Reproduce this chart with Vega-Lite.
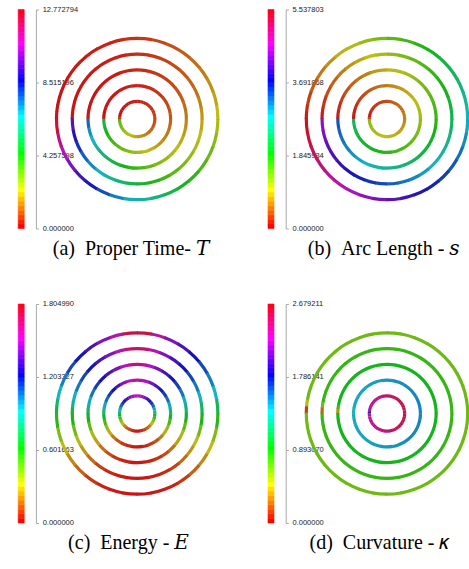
{
"$schema":"https://vega.github.io/schema/vega-lite/v6.json",
"background":"white",
"padding":{"left":17.2,"top":5.5,"right":1,"bottom":5},
"config":{"view":{"stroke":null},
"axis":{"labelFont":"Liberation Sans","labelFontSize":7.5,"labelColor":"#1a1a1a","tickColor":"#a8a8a8","domainColor":"#a8a8a8","tickWidth":1,"domainWidth":1,"grid":false,"title":null,"labelFlush":false,"labelOverlap":false},
"title":{"orient":"bottom","frame":"group","anchor":"middle","font":"Liberation Serif, DejaVu Serif","fontSize":20,"fontWeight":"normal","color":"#000","offset":10.5}},
"datasets":{
"bars":[
{"t0":0,"t1":0.2661,"s0":0,"s1":0.11537,"e0":0,"e1":0.0376,"k0":0,"k1":0.05582},
{"t0":0.2661,"t1":0.5322,"s0":0.11537,"s1":0.23074,"e0":0.0376,"e1":0.07521,"k0":0.05582,"k1":0.11163},
{"t0":0.5322,"t1":0.7983,"s0":0.23074,"s1":0.34611,"e0":0.07521,"e1":0.11281,"k0":0.11163,"k1":0.16745},
{"t0":0.7983,"t1":1.0644,"s0":0.34611,"s1":0.46148,"e0":0.11281,"e1":0.15042,"k0":0.16745,"k1":0.22327},
{"t0":1.0644,"t1":1.3305,"s0":0.46148,"s1":0.57685,"e0":0.15042,"e1":0.18802,"k0":0.22327,"k1":0.27908},
{"t0":1.3305,"t1":1.5966,"s0":0.57685,"s1":0.69223,"e0":0.18802,"e1":0.22562,"k0":0.27908,"k1":0.3349},
{"t0":1.5966,"t1":1.8627,"s0":0.69223,"s1":0.8076,"e0":0.22562,"e1":0.26323,"k0":0.3349,"k1":0.39072},
{"t0":1.8627,"t1":2.1288,"s0":0.8076,"s1":0.92297,"e0":0.26323,"e1":0.30083,"k0":0.39072,"k1":0.44654},
{"t0":2.1288,"t1":2.3949,"s0":0.92297,"s1":1.03834,"e0":0.30083,"e1":0.33844,"k0":0.44654,"k1":0.50235},
{"t0":2.3949,"t1":2.661,"s0":1.03834,"s1":1.15371,"e0":0.33844,"e1":0.37604,"k0":0.50235,"k1":0.55817},
{"t0":2.661,"t1":2.9271,"s0":1.15371,"s1":1.26908,"e0":0.37604,"e1":0.41364,"k0":0.55817,"k1":0.61399},
{"t0":2.9271,"t1":3.1932,"s0":1.26908,"s1":1.38445,"e0":0.41364,"e1":0.45125,"k0":0.61399,"k1":0.6698},
{"t0":3.1932,"t1":3.4593,"s0":1.38445,"s1":1.49982,"e0":0.45125,"e1":0.48885,"k0":0.6698,"k1":0.72562},
{"t0":3.4593,"t1":3.7254,"s0":1.49982,"s1":1.61519,"e0":0.48885,"e1":0.52646,"k0":0.72562,"k1":0.78144},
{"t0":3.7254,"t1":3.9915,"s0":1.61519,"s1":1.73056,"e0":0.52646,"e1":0.56406,"k0":0.78144,"k1":0.83725},
{"t0":3.9915,"t1":4.2576,"s0":1.73056,"s1":1.84593,"e0":0.56406,"e1":0.60166,"k0":0.83725,"k1":0.89307},
{"t0":4.2576,"t1":4.5237,"s0":1.84593,"s1":1.96131,"e0":0.60166,"e1":0.63927,"k0":0.89307,"k1":0.94889},
{"t0":4.5237,"t1":4.7898,"s0":1.96131,"s1":2.07668,"e0":0.63927,"e1":0.67687,"k0":0.94889,"k1":1.0047},
{"t0":4.7898,"t1":5.0559,"s0":2.07668,"s1":2.19205,"e0":0.67687,"e1":0.71448,"k0":1.0047,"k1":1.06052},
{"t0":5.0559,"t1":5.322,"s0":2.19205,"s1":2.30742,"e0":0.71448,"e1":0.75208,"k0":1.06052,"k1":1.11634},
{"t0":5.322,"t1":5.5881,"s0":2.30742,"s1":2.42279,"e0":0.75208,"e1":0.78968,"k0":1.11634,"k1":1.17215},
{"t0":5.5881,"t1":5.8542,"s0":2.42279,"s1":2.53816,"e0":0.78968,"e1":0.82729,"k0":1.17215,"k1":1.22797},
{"t0":5.8542,"t1":6.1203,"s0":2.53816,"s1":2.65353,"e0":0.82729,"e1":0.86489,"k0":1.22797,"k1":1.28379},
{"t0":6.1203,"t1":6.3864,"s0":2.65353,"s1":2.7689,"e0":0.86489,"e1":0.9025,"k0":1.28379,"k1":1.33961},
{"t0":6.3864,"t1":6.6525,"s0":2.7689,"s1":2.88427,"e0":0.9025,"e1":0.9401,"k0":1.33961,"k1":1.39542},
{"t0":6.6525,"t1":6.9186,"s0":2.88427,"s1":2.99964,"e0":0.9401,"e1":0.9777,"k0":1.39542,"k1":1.45124},
{"t0":6.9186,"t1":7.18469,"s0":2.99964,"s1":3.11501,"e0":0.9777,"e1":1.01531,"k0":1.45124,"k1":1.50706},
{"t0":7.18469,"t1":7.45079,"s0":3.11501,"s1":3.23039,"e0":1.01531,"e1":1.05291,"k0":1.50706,"k1":1.56287},
{"t0":7.45079,"t1":7.71689,"s0":3.23039,"s1":3.34576,"e0":1.05291,"e1":1.09051,"k0":1.56287,"k1":1.61869},
{"t0":7.71689,"t1":7.98299,"s0":3.34576,"s1":3.46113,"e0":1.09051,"e1":1.12812,"k0":1.61869,"k1":1.67451},
{"t0":7.98299,"t1":8.24909,"s0":3.46113,"s1":3.5765,"e0":1.12812,"e1":1.16572,"k0":1.67451,"k1":1.73032},
{"t0":8.24909,"t1":8.5152,"s0":3.5765,"s1":3.69187,"e0":1.16572,"e1":1.20333,"k0":1.73032,"k1":1.78614},
{"t0":8.5152,"t1":8.7813,"s0":3.69187,"s1":3.80724,"e0":1.20333,"e1":1.24093,"k0":1.78614,"k1":1.84196},
{"t0":8.7813,"t1":9.0474,"s0":3.80724,"s1":3.92261,"e0":1.24093,"e1":1.27853,"k0":1.84196,"k1":1.89777},
{"t0":9.0474,"t1":9.3135,"s0":3.92261,"s1":4.03798,"e0":1.27853,"e1":1.31614,"k0":1.89777,"k1":1.95359},
{"t0":9.3135,"t1":9.5796,"s0":4.03798,"s1":4.15335,"e0":1.31614,"e1":1.35374,"k0":1.95359,"k1":2.00941},
{"t0":9.5796,"t1":9.8457,"s0":4.15335,"s1":4.26872,"e0":1.35374,"e1":1.39135,"k0":2.00941,"k1":2.06522},
{"t0":9.8457,"t1":10.1118,"s0":4.26872,"s1":4.38409,"e0":1.39135,"e1":1.42895,"k0":2.06522,"k1":2.12104},
{"t0":10.1118,"t1":10.3779,"s0":4.38409,"s1":4.49947,"e0":1.42895,"e1":1.46655,"k0":2.12104,"k1":2.17686},
{"t0":10.3779,"t1":10.644,"s0":4.49947,"s1":4.61484,"e0":1.46655,"e1":1.50416,"k0":2.17686,"k1":2.23268},
{"t0":10.644,"t1":10.9101,"s0":4.61484,"s1":4.73021,"e0":1.50416,"e1":1.54176,"k0":2.23268,"k1":2.28849},
{"t0":10.9101,"t1":11.1762,"s0":4.73021,"s1":4.84558,"e0":1.54176,"e1":1.57937,"k0":2.28849,"k1":2.34431},
{"t0":11.1762,"t1":11.4423,"s0":4.84558,"s1":4.96095,"e0":1.57937,"e1":1.61697,"k0":2.34431,"k1":2.40013},
{"t0":11.4423,"t1":11.7084,"s0":4.96095,"s1":5.07632,"e0":1.61697,"e1":1.65457,"k0":2.40013,"k1":2.45594},
{"t0":11.7084,"t1":11.9745,"s0":5.07632,"s1":5.19169,"e0":1.65457,"e1":1.69218,"k0":2.45594,"k1":2.51176},
{"t0":11.9745,"t1":12.2406,"s0":5.19169,"s1":5.30706,"e0":1.69218,"e1":1.72978,"k0":2.51176,"k1":2.56758},
{"t0":12.2406,"t1":12.5067,"s0":5.30706,"s1":5.42243,"e0":1.72978,"e1":1.76739,"k0":2.56758,"k1":2.62339},
{"t0":12.5067,"t1":12.772794,"s0":5.42243,"s1":5.537803,"e0":1.76739,"e1":1.80499,"k0":2.62339,"k1":2.679211}
],
"rings":[
{"r":1,"a":270,"b":275,"T":0,"S":0.0085,"E":0.7581,"K":1.7415},
{"r":1,"a":275,"b":280,"T":0.0002,"S":0.0254,"E":0.8303,"K":2.0094},
{"r":1,"a":280,"b":290,"T":0.0013,"S":0.0508,"E":0.9386,"K":2.3346},
{"r":1,"a":290,"b":300,"T":0.0045,"S":0.0846,"E":1.0469,"K":2.341},
{"r":1,"a":300,"b":310,"T":0.0105,"S":0.1184,"E":1.1371,"K":2.3503},
{"r":1,"a":310,"b":320,"T":0.0198,"S":0.1523,"E":1.2093,"K":2.3623},
{"r":1,"a":320,"b":330,"T":0.0326,"S":0.1861,"E":1.2996,"K":2.3766},
{"r":1,"a":330,"b":340,"T":0.0495,"S":0.22,"E":1.3898,"K":2.3928},
{"r":1,"a":340,"b":350,"T":0.0708,"S":0.2538,"E":1.462,"K":2.4104},
{"r":1,"a":350,"b":360,"T":0.0969,"S":0.2877,"E":1.5162,"K":2.4288},
{"r":1,"a":0,"b":10,"T":0.1279,"S":0.3215,"E":1.5162,"K":2.4474},
{"r":1,"a":10,"b":20,"T":0.1643,"S":0.3553,"E":1.462,"K":2.4658},
{"r":1,"a":20,"b":30,"T":0.2062,"S":0.3892,"E":1.3898,"K":2.4834},
{"r":1,"a":30,"b":40,"T":0.254,"S":0.423,"E":1.2996,"K":2.4996},
{"r":1,"a":40,"b":50,"T":0.308,"S":0.4569,"E":1.2093,"K":2.5139},
{"r":1,"a":50,"b":60,"T":0.3682,"S":0.4907,"E":1.1371,"K":2.5259},
{"r":1,"a":60,"b":70,"T":0.435,"S":0.5246,"E":1.0469,"K":2.5352},
{"r":1,"a":70,"b":80,"T":0.5086,"S":0.5584,"E":0.9386,"K":2.5416},
{"r":1,"a":80,"b":90,"T":0.5892,"S":0.5922,"E":0.7942,"K":2.5449},
{"r":1,"a":90,"b":100,"T":0.677,"S":0.6261,"E":0.6679,"K":2.5449},
{"r":1,"a":100,"b":110,"T":0.7722,"S":0.6599,"E":0.5234,"K":2.5416},
{"r":1,"a":110,"b":120,"T":0.875,"S":0.6938,"E":0.3971,"K":2.5352},
{"r":1,"a":120,"b":130,"T":0.9857,"S":0.7276,"E":0.2888,"K":2.5259},
{"r":1,"a":130,"b":140,"T":1.1043,"S":0.7614,"E":0.1986,"K":2.5139},
{"r":1,"a":140,"b":150,"T":1.2312,"S":0.7953,"E":0.1264,"K":2.4996},
{"r":1,"a":150,"b":160,"T":1.3664,"S":0.8291,"E":0.0722,"K":2.4834},
{"r":1,"a":160,"b":170,"T":1.51,"S":0.863,"E":0.0361,"K":2.4658},
{"r":1,"a":170,"b":180,"T":1.6625,"S":0.8968,"E":0.009,"K":2.4474},
{"r":1,"a":180,"b":190,"T":1.8238,"S":0.9307,"E":0.009,"K":2.4288},
{"r":1,"a":190,"b":200,"T":1.9942,"S":0.9645,"E":0.0361,"K":2.4104},
{"r":1,"a":200,"b":210,"T":2.1737,"S":0.9983,"E":0.0722,"K":2.3928},
{"r":1,"a":210,"b":220,"T":2.3626,"S":1.0322,"E":0.1264,"K":2.3766},
{"r":1,"a":220,"b":230,"T":2.561,"S":1.066,"E":0.1986,"K":2.3623},
{"r":1,"a":230,"b":240,"T":2.7692,"S":1.0999,"E":0.2888,"K":2.3503},
{"r":1,"a":240,"b":250,"T":2.9872,"S":1.1337,"E":0.3971,"K":2.341},
{"r":1,"a":250,"b":260,"T":3.215,"S":1.1676,"E":0.5234,"K":2.3346},
{"r":1,"a":260,"b":270,"T":3.4531,"S":1.2014,"E":0.6679,"K":2.3313},
{"r":2,"a":270,"b":275,"T":0,"S":0.0158,"E":0.7382,"K":1.2592},
{"r":2,"a":275,"b":280,"T":0.0003,"S":0.0473,"E":0.8122,"K":1.3396},
{"r":2,"a":280,"b":290,"T":0.0018,"S":0.0946,"E":0.9296,"K":1.3682},
{"r":2,"a":290,"b":300,"T":0.0065,"S":0.1577,"E":1.0361,"K":1.3714},
{"r":2,"a":300,"b":310,"T":0.0151,"S":0.2207,"E":1.1281,"K":1.3761},
{"r":2,"a":310,"b":320,"T":0.0282,"S":0.2838,"E":1.2093,"K":1.3821},
{"r":2,"a":320,"b":330,"T":0.0466,"S":0.3469,"E":1.2996,"K":1.3893},
{"r":2,"a":330,"b":340,"T":0.0708,"S":0.4099,"E":1.3944,"K":1.3974},
{"r":2,"a":340,"b":350,"T":0.1012,"S":0.473,"E":1.4846,"K":1.4061},
{"r":2,"a":350,"b":360,"T":0.1384,"S":0.5361,"E":1.5658,"K":1.4153},
{"r":2,"a":0,"b":10,"T":0.1828,"S":0.5992,"E":1.5658,"K":1.4247},
{"r":2,"a":10,"b":20,"T":0.2347,"S":0.6622,"E":1.4846,"K":1.4339},
{"r":2,"a":20,"b":30,"T":0.2947,"S":0.7253,"E":1.3944,"K":1.4426},
{"r":2,"a":30,"b":40,"T":0.363,"S":0.7884,"E":1.2996,"K":1.4507},
{"r":2,"a":40,"b":50,"T":0.44,"S":0.8514,"E":1.2093,"K":1.4579},
{"r":2,"a":50,"b":60,"T":0.526,"S":0.9145,"E":1.1281,"K":1.4639},
{"r":2,"a":60,"b":70,"T":0.6215,"S":0.9776,"E":1.0361,"K":1.4686},
{"r":2,"a":70,"b":80,"T":0.7266,"S":1.0406,"E":0.9296,"K":1.4718},
{"r":2,"a":80,"b":90,"T":0.8417,"S":1.1037,"E":0.7743,"K":1.4734},
{"r":2,"a":90,"b":100,"T":0.9672,"S":1.1668,"E":0.6408,"K":1.4734},
{"r":2,"a":100,"b":110,"T":1.1033,"S":1.2298,"E":0.4964,"K":1.4718},
{"r":2,"a":110,"b":120,"T":1.2501,"S":1.2929,"E":0.3718,"K":1.4686},
{"r":2,"a":120,"b":130,"T":1.4082,"S":1.356,"E":0.2689,"K":1.4639},
{"r":2,"a":130,"b":140,"T":1.5778,"S":1.419,"E":0.1823,"K":1.4579},
{"r":2,"a":140,"b":150,"T":1.759,"S":1.4821,"E":0.1101,"K":1.4507},
{"r":2,"a":150,"b":160,"T":1.9521,"S":1.5452,"E":0.0614,"K":1.4426},
{"r":2,"a":160,"b":170,"T":2.1574,"S":1.6083,"E":0.0289,"K":1.4339},
{"r":2,"a":170,"b":180,"T":2.3752,"S":1.6713,"E":0.0072,"K":1.4247},
{"r":2,"a":180,"b":190,"T":2.6056,"S":1.7344,"E":0.0072,"K":1.4153},
{"r":2,"a":190,"b":200,"T":2.849,"S":1.7975,"E":0.0289,"K":1.4061},
{"r":2,"a":200,"b":210,"T":3.1055,"S":1.8605,"E":0.0614,"K":1.3974},
{"r":2,"a":210,"b":220,"T":3.3754,"S":1.9236,"E":0.1101,"K":1.3893},
{"r":2,"a":220,"b":230,"T":3.6589,"S":1.9867,"E":0.1823,"K":1.3821},
{"r":2,"a":230,"b":240,"T":3.9563,"S":2.0497,"E":0.2689,"K":1.3761},
{"r":2,"a":240,"b":250,"T":4.2678,"S":2.1128,"E":0.3718,"K":1.3714},
{"r":2,"a":250,"b":260,"T":4.5933,"S":2.1759,"E":0.4964,"K":1.3682},
{"r":2,"a":260,"b":270,"T":4.9334,"S":2.2389,"E":0.6408,"K":1.3666},
{"r":3,"a":270,"b":275,"T":0,"S":0.0235,"E":0.7175,"K":0.3215},
{"r":3,"a":275,"b":280,"T":0.0005,"S":0.0704,"E":0.7942,"K":0.7502},
{"r":3,"a":280,"b":290,"T":0.0027,"S":0.1408,"E":0.9205,"K":0.9109},
{"r":3,"a":290,"b":300,"T":0.0097,"S":0.2346,"E":1.0243,"K":0.9109},
{"r":3,"a":300,"b":310,"T":0.0226,"S":0.3284,"E":1.1191,"K":0.9109},
{"r":3,"a":310,"b":320,"T":0.0423,"S":0.4223,"E":1.2093,"K":0.9109},
{"r":3,"a":320,"b":330,"T":0.0699,"S":0.5161,"E":1.2996,"K":0.9109},
{"r":3,"a":330,"b":340,"T":0.1062,"S":0.6099,"E":1.3989,"K":0.9109},
{"r":3,"a":340,"b":350,"T":0.1518,"S":0.7038,"E":1.5072,"K":0.9109},
{"r":3,"a":350,"b":360,"T":0.2076,"S":0.7976,"E":1.6155,"K":0.9109},
{"r":3,"a":0,"b":10,"T":0.2742,"S":0.8914,"E":1.6155,"K":0.9109},
{"r":3,"a":10,"b":20,"T":0.3521,"S":0.9852,"E":1.5072,"K":0.9109},
{"r":3,"a":20,"b":30,"T":0.442,"S":1.0791,"E":1.3989,"K":0.9109},
{"r":3,"a":30,"b":40,"T":0.5445,"S":1.1729,"E":1.2996,"K":0.9109},
{"r":3,"a":40,"b":50,"T":0.66,"S":1.2668,"E":1.2093,"K":0.9109},
{"r":3,"a":50,"b":60,"T":0.7891,"S":1.3606,"E":1.1191,"K":0.9109},
{"r":3,"a":60,"b":70,"T":0.9323,"S":1.4544,"E":1.0243,"K":0.9109},
{"r":3,"a":70,"b":80,"T":1.09,"S":1.5483,"E":0.9205,"K":0.9109},
{"r":3,"a":80,"b":90,"T":1.2627,"S":1.6421,"E":0.7536,"K":0.9109},
{"r":3,"a":90,"b":100,"T":1.4509,"S":1.7359,"E":0.6137,"K":0.9109},
{"r":3,"a":100,"b":110,"T":1.655,"S":1.8298,"E":0.4693,"K":0.9109},
{"r":3,"a":110,"b":120,"T":1.8753,"S":1.9236,"E":0.3475,"K":0.9109},
{"r":3,"a":120,"b":130,"T":2.1125,"S":2.0174,"E":0.2482,"K":0.9109},
{"r":3,"a":130,"b":140,"T":2.3668,"S":2.1113,"E":0.167,"K":0.9109},
{"r":3,"a":140,"b":150,"T":2.6386,"S":2.2051,"E":0.0948,"K":0.9109},
{"r":3,"a":150,"b":160,"T":2.9283,"S":2.2989,"E":0.0496,"K":0.9109},
{"r":3,"a":160,"b":170,"T":3.2363,"S":2.3928,"E":0.0226,"K":0.9109},
{"r":3,"a":170,"b":180,"T":3.563,"S":2.4866,"E":0.0054,"K":0.9109},
{"r":3,"a":180,"b":190,"T":3.9087,"S":2.5804,"E":0.0054,"K":0.9109},
{"r":3,"a":190,"b":200,"T":4.2738,"S":2.6743,"E":0.0226,"K":0.9109},
{"r":3,"a":200,"b":210,"T":4.6585,"S":2.7681,"E":0.0496,"K":0.9109},
{"r":3,"a":210,"b":220,"T":5.0635,"S":2.8619,"E":0.0948,"K":0.9109},
{"r":3,"a":220,"b":230,"T":5.4888,"S":2.9558,"E":0.167,"K":0.9109},
{"r":3,"a":230,"b":240,"T":5.9349,"S":3.0496,"E":0.2482,"K":0.9109},
{"r":3,"a":240,"b":250,"T":6.4021,"S":3.1434,"E":0.3475,"K":0.9109},
{"r":3,"a":250,"b":260,"T":6.8904,"S":3.2373,"E":0.4693,"K":0.9109},
{"r":3,"a":260,"b":270,"T":7.4006,"S":3.3311,"E":0.6137,"K":0.9109},
{"r":4,"a":270,"b":275,"T":0,"S":0.0308,"E":0.6967,"K":0.2143},
{"r":4,"a":275,"b":280,"T":0.0006,"S":0.0923,"E":0.7762,"K":0.643},
{"r":4,"a":280,"b":290,"T":0.0034,"S":0.1846,"E":0.9115,"K":0.8038},
{"r":4,"a":290,"b":300,"T":0.0123,"S":0.3077,"E":1.0126,"K":0.8038},
{"r":4,"a":300,"b":310,"T":0.0286,"S":0.4307,"E":1.1101,"K":0.8038},
{"r":4,"a":310,"b":320,"T":0.0536,"S":0.5538,"E":1.2093,"K":0.8038},
{"r":4,"a":320,"b":330,"T":0.0886,"S":0.6768,"E":1.2996,"K":0.8038},
{"r":4,"a":330,"b":340,"T":0.1345,"S":0.7999,"E":1.4034,"K":0.8038},
{"r":4,"a":340,"b":350,"T":0.1923,"S":0.9229,"E":1.5297,"K":0.8038},
{"r":4,"a":350,"b":360,"T":0.2629,"S":1.046,"E":1.6651,"K":0.8038},
{"r":4,"a":0,"b":10,"T":0.3473,"S":1.1691,"E":1.6651,"K":0.8038},
{"r":4,"a":10,"b":20,"T":0.446,"S":1.2921,"E":1.5297,"K":0.8038},
{"r":4,"a":20,"b":30,"T":0.5598,"S":1.4152,"E":1.4034,"K":0.8038},
{"r":4,"a":30,"b":40,"T":0.6896,"S":1.5382,"E":1.2996,"K":0.8038},
{"r":4,"a":40,"b":50,"T":0.8359,"S":1.6613,"E":1.2093,"K":0.8038},
{"r":4,"a":50,"b":60,"T":0.9994,"S":1.7843,"E":1.1101,"K":0.8038},
{"r":4,"a":60,"b":70,"T":1.1808,"S":1.9074,"E":1.0126,"K":0.8038},
{"r":4,"a":70,"b":80,"T":1.3805,"S":2.0305,"E":0.9115,"K":0.8038},
{"r":4,"a":80,"b":90,"T":1.5993,"S":2.1535,"E":0.7328,"K":0.8038},
{"r":4,"a":90,"b":100,"T":1.8376,"S":2.2766,"E":0.5866,"K":0.8038},
{"r":4,"a":100,"b":110,"T":2.0961,"S":2.3996,"E":0.4422,"K":0.8038},
{"r":4,"a":110,"b":120,"T":2.3752,"S":2.5227,"E":0.3231,"K":0.8038},
{"r":4,"a":120,"b":130,"T":2.6756,"S":2.6457,"E":0.2274,"K":0.8038},
{"r":4,"a":130,"b":140,"T":2.9977,"S":2.7688,"E":0.1516,"K":0.8038},
{"r":4,"a":140,"b":150,"T":3.342,"S":2.8919,"E":0.0794,"K":0.8038},
{"r":4,"a":150,"b":160,"T":3.709,"S":3.0149,"E":0.0379,"K":0.8038},
{"r":4,"a":160,"b":170,"T":4.099,"S":3.138,"E":0.0162,"K":0.8038},
{"r":4,"a":170,"b":180,"T":4.5128,"S":3.261,"E":0.0036,"K":0.8038},
{"r":4,"a":180,"b":190,"T":4.9507,"S":3.3841,"E":0.0036,"K":0.8038},
{"r":4,"a":190,"b":200,"T":5.4131,"S":3.5071,"E":0.0162,"K":0.8038},
{"r":4,"a":200,"b":210,"T":5.9004,"S":3.6302,"E":0.0379,"K":0.8038},
{"r":4,"a":210,"b":220,"T":6.4132,"S":3.7533,"E":0.0794,"K":0.8038},
{"r":4,"a":220,"b":230,"T":6.9519,"S":3.8763,"E":0.1516,"K":0.8038},
{"r":4,"a":230,"b":240,"T":7.517,"S":3.9994,"E":0.2274,"K":0.8038},
{"r":4,"a":240,"b":250,"T":8.1087,"S":4.1224,"E":0.3231,"K":0.8038},
{"r":4,"a":250,"b":260,"T":8.7271,"S":4.2455,"E":0.4422,"K":0.8038},
{"r":4,"a":260,"b":270,"T":9.3734,"S":4.3685,"E":0.5866,"K":0.8038},
{"r":5,"a":270,"b":275,"T":0.0001,"S":0.0385,"E":0.6769,"K":0.1072},
{"r":5,"a":275,"b":280,"T":0.0008,"S":0.1154,"E":0.7581,"K":0.4823},
{"r":5,"a":280,"b":290,"T":0.0045,"S":0.2307,"E":0.9025,"K":0.6564},
{"r":5,"a":290,"b":300,"T":0.0162,"S":0.3846,"E":1.0018,"K":0.6564},
{"r":5,"a":300,"b":310,"T":0.0376,"S":0.5384,"E":1.101,"K":0.6564},
{"r":5,"a":310,"b":320,"T":0.0706,"S":0.6922,"E":1.2093,"K":0.6564},
{"r":5,"a":320,"b":330,"T":0.1165,"S":0.8461,"E":1.2996,"K":0.6564},
{"r":5,"a":330,"b":340,"T":0.1769,"S":0.9999,"E":1.4079,"K":0.6564},
{"r":5,"a":340,"b":350,"T":0.253,"S":1.1537,"E":1.5523,"K":0.6564},
{"r":5,"a":350,"b":360,"T":0.346,"S":1.3076,"E":1.7147,"K":0.6564},
{"r":5,"a":0,"b":10,"T":0.4569,"S":1.4614,"E":1.7147,"K":0.6564},
{"r":5,"a":10,"b":20,"T":0.5868,"S":1.6152,"E":1.5523,"K":0.6564},
{"r":5,"a":20,"b":30,"T":0.7367,"S":1.7691,"E":1.4079,"K":0.6564},
{"r":5,"a":30,"b":40,"T":0.9074,"S":1.9229,"E":1.2996,"K":0.6564},
{"r":5,"a":40,"b":50,"T":1.0999,"S":2.0767,"E":1.2093,"K":0.6564},
{"r":5,"a":50,"b":60,"T":1.3151,"S":2.2305,"E":1.101,"K":0.6564},
{"r":5,"a":60,"b":70,"T":1.5537,"S":2.3844,"E":1.0018,"K":0.6564},
{"r":5,"a":70,"b":80,"T":1.8165,"S":2.5382,"E":0.9025,"K":0.6564},
{"r":5,"a":80,"b":90,"T":2.1044,"S":2.692,"E":0.713,"K":0.6564},
{"r":5,"a":90,"b":100,"T":2.4181,"S":2.8459,"E":0.5595,"K":0.6564},
{"r":5,"a":100,"b":110,"T":2.7582,"S":2.9997,"E":0.4151,"K":0.6564},
{"r":5,"a":110,"b":120,"T":3.1254,"S":3.1535,"E":0.2978,"K":0.6564},
{"r":5,"a":120,"b":130,"T":3.5207,"S":3.3074,"E":0.2076,"K":0.6564},
{"r":5,"a":130,"b":140,"T":3.9445,"S":3.4612,"E":0.1354,"K":0.6564},
{"r":5,"a":140,"b":150,"T":4.3976,"S":3.615,"E":0.0632,"K":0.6564},
{"r":5,"a":150,"b":160,"T":4.8804,"S":3.7689,"E":0.0271,"K":0.6564},
{"r":5,"a":160,"b":170,"T":5.3937,"S":3.9227,"E":0.009,"K":0.6564},
{"r":5,"a":170,"b":180,"T":5.9381,"S":4.0765,"E":0.0018,"K":0.6564},
{"r":5,"a":180,"b":190,"T":6.5143,"S":4.2304,"E":0.0018,"K":0.6564},
{"r":5,"a":190,"b":200,"T":7.1228,"S":4.3842,"E":0.009,"K":0.6564},
{"r":5,"a":200,"b":210,"T":7.764,"S":4.538,"E":0.0271,"K":0.6564},
{"r":5,"a":210,"b":220,"T":8.4389,"S":4.6919,"E":0.0632,"K":0.6564},
{"r":5,"a":220,"b":230,"T":9.1477,"S":4.8457,"E":0.1354,"K":0.6564},
{"r":5,"a":230,"b":240,"T":9.8912,"S":4.9995,"E":0.2076,"K":0.6564},
{"r":5,"a":240,"b":250,"T":10.6698,"S":5.1534,"E":0.2978,"K":0.6564},
{"r":5,"a":250,"b":260,"T":11.4837,"S":5.3072,"E":0.4151,"K":0.6564},
{"r":5,"a":260,"b":270,"T":12.3341,"S":5.461,"E":0.5595,"K":0.6564}
]},
"columns":2,
"spacing":{"row":40.5,"column":46.8},
"resolve":{"scale":{"fill":"independent","color":"independent","stroke":"independent","y":"independent","theta":"independent","radius":"independent"}},
"concat":[
{"bounds":"flush","spacing":30,"hconcat":[
{"width":6,"height":219,"data":{"name":"bars"},"mark":{"type":"rect","strokeWidth":0.6},
"encoding":{"y":{"field":"t0","type":"quantitative","scale":{"domain":[0,12.772794],"nice":false,"zero":false},"axis":{"orient":"right","offset":11.7,"values":[0,4.257598,8.515196,12.772794],"format":".6f","labelAlign":"left","labelPadding":3.6,"tickSize":2.7}},
"y2":{"field":"t1"},
"color":{"field":"t0","type":"quantitative","scale":{"domain":[0,12.772794],"range":["#ff0000","#ffff00","#00ff00","#00ffff","#0000ff","#ff00ff","#ff0000"],"interpolate":"rgb"},"legend":null},
"stroke":{"field":"t0","type":"quantitative","scale":{"domain":[0,12.772794],"range":["#ff0000","#ffff00","#00ff00","#00ffff","#0000ff","#ff00ff","#ff0000"],"interpolate":"rgb"},"legend":null}}},
{"width":166,"height":219,"data":{"name":"rings"},
"title":{"text":"(a)\u00a0\u00a0Proper Time- \ud835\udc47","dx":-6.2},
"mark":{"type":"arc","radiusOffset":1.6,"radius2Offset":-1.6,"theta2Offset":0.01},
"encoding":{
"theta":{"field":"a","type":"quantitative","scale":{"domain":[0,360],"range":[0,6.283185307179586]}},
"theta2":{"field":"b"},
"radius":{"field":"r","type":"quantitative","scale":{"type":"linear","domain":[0,5],"range":[1.9,80.7],"zero":false}},
"radius2":{"field":"r"},
"fill":{"field":"T","type":"quantitative","scale":{"domain":[0,12.772794],"range":["#c81414","#bebe14","#14b414","#14b4c0","#1414b4","#b414c0","#c81414"],"interpolate":"rgb"},"legend":null}}}
]},
{"bounds":"flush","spacing":30,"hconcat":[
{"width":6,"height":219,"data":{"name":"bars"},"mark":{"type":"rect","strokeWidth":0.6},
"encoding":{"y":{"field":"s0","type":"quantitative","scale":{"domain":[0,5.537803],"nice":false,"zero":false},"axis":{"orient":"right","offset":11.7,"values":[0,1.845934,3.691868,5.537803],"format":".6f","labelAlign":"left","labelPadding":3.6,"tickSize":2.7}},
"y2":{"field":"s1"},
"color":{"field":"s0","type":"quantitative","scale":{"domain":[0,5.537803],"range":["#ff0000","#ffff00","#00ff00","#00ffff","#0000ff","#ff00ff","#ff0000"],"interpolate":"rgb"},"legend":null},
"stroke":{"field":"s0","type":"quantitative","scale":{"domain":[0,5.537803],"range":["#ff0000","#ffff00","#00ff00","#00ffff","#0000ff","#ff00ff","#ff0000"],"interpolate":"rgb"},"legend":null}}},
{"width":166,"height":219,"data":{"name":"rings"},
"title":{"text":"(b)\u00a0\u00a0Arc Length - \ud835\udc60","dx":-3.3},
"mark":{"type":"arc","radiusOffset":1.6,"radius2Offset":-1.6,"theta2Offset":0.01},
"encoding":{
"theta":{"field":"a","type":"quantitative","scale":{"domain":[0,360],"range":[0,6.283185307179586]}},
"theta2":{"field":"b"},
"radius":{"field":"r","type":"quantitative","scale":{"type":"linear","domain":[0,5],"range":[1.9,80.7],"zero":false}},
"radius2":{"field":"r"},
"fill":{"field":"S","type":"quantitative","scale":{"domain":[0,5.537803],"range":["#c81414","#bebe14","#14b414","#14b4c0","#1414b4","#b414c0","#c81414"],"interpolate":"rgb"},"legend":null}}}
]},
{"bounds":"flush","spacing":30,"hconcat":[
{"width":6,"height":219,"data":{"name":"bars"},"mark":{"type":"rect","strokeWidth":0.6},
"encoding":{"y":{"field":"e0","type":"quantitative","scale":{"domain":[0,1.80499],"nice":false,"zero":false},"axis":{"orient":"right","offset":11.7,"values":[0,0.601663,1.203327,1.80499],"format":".6f","labelAlign":"left","labelPadding":3.6,"tickSize":2.7}},
"y2":{"field":"e1"},
"color":{"field":"e0","type":"quantitative","scale":{"domain":[0,1.80499],"range":["#ff0000","#ffff00","#00ff00","#00ffff","#0000ff","#ff00ff","#ff0000"],"interpolate":"rgb"},"legend":null},
"stroke":{"field":"e0","type":"quantitative","scale":{"domain":[0,1.80499],"range":["#ff0000","#ffff00","#00ff00","#00ffff","#0000ff","#ff00ff","#ff0000"],"interpolate":"rgb"},"legend":null}}},
{"width":166,"height":219,"data":{"name":"rings"},
"title":{"text":"(c)\u00a0\u00a0Energy - \ud835\udc38","dx":-8.7},
"mark":{"type":"arc","radiusOffset":1.6,"radius2Offset":-1.6,"theta2Offset":0.01},
"encoding":{
"theta":{"field":"a","type":"quantitative","scale":{"domain":[0,360],"range":[0,6.283185307179586]}},
"theta2":{"field":"b"},
"radius":{"field":"r","type":"quantitative","scale":{"type":"linear","domain":[0,5],"range":[1.9,80.7],"zero":false}},
"radius2":{"field":"r"},
"fill":{"field":"E","type":"quantitative","scale":{"domain":[0,1.80499],"range":["#c81414","#bebe14","#14b414","#14b4c0","#1414b4","#b414c0","#c81414"],"interpolate":"rgb"},"legend":null}}}
]},
{"bounds":"flush","spacing":30,"hconcat":[
{"width":6,"height":219,"data":{"name":"bars"},"mark":{"type":"rect","strokeWidth":0.6},
"encoding":{"y":{"field":"k0","type":"quantitative","scale":{"domain":[0,2.679211],"nice":false,"zero":false},"axis":{"orient":"right","offset":11.7,"values":[0,0.89307,1.786141,2.679211],"format":".6f","labelAlign":"left","labelPadding":3.6,"tickSize":2.7}},
"y2":{"field":"k1"},
"color":{"field":"k0","type":"quantitative","scale":{"domain":[0,2.679211],"range":["#ff0000","#ffff00","#00ff00","#00ffff","#0000ff","#ff00ff","#ff0000"],"interpolate":"rgb"},"legend":null},
"stroke":{"field":"k0","type":"quantitative","scale":{"domain":[0,2.679211],"range":["#ff0000","#ffff00","#00ff00","#00ffff","#0000ff","#ff00ff","#ff0000"],"interpolate":"rgb"},"legend":null}}},
{"width":166,"height":219,"data":{"name":"rings"},
"title":{"text":"(d)\u00a0\u00a0Curvature - \ud835\udf05","dx":-7.5},
"mark":{"type":"arc","radiusOffset":1.6,"radius2Offset":-1.6,"theta2Offset":0.01},
"encoding":{
"theta":{"field":"a","type":"quantitative","scale":{"domain":[0,360],"range":[0,6.283185307179586]}},
"theta2":{"field":"b"},
"radius":{"field":"r","type":"quantitative","scale":{"type":"linear","domain":[0,5],"range":[1.9,80.7],"zero":false}},
"radius2":{"field":"r"},
"fill":{"field":"K","type":"quantitative","scale":{"domain":[0,2.679211],"range":["#c81414","#bebe14","#14b414","#14b4c0","#1414b4","#b414c0","#c81414"],"interpolate":"rgb"},"legend":null}}}
]}
]
}
